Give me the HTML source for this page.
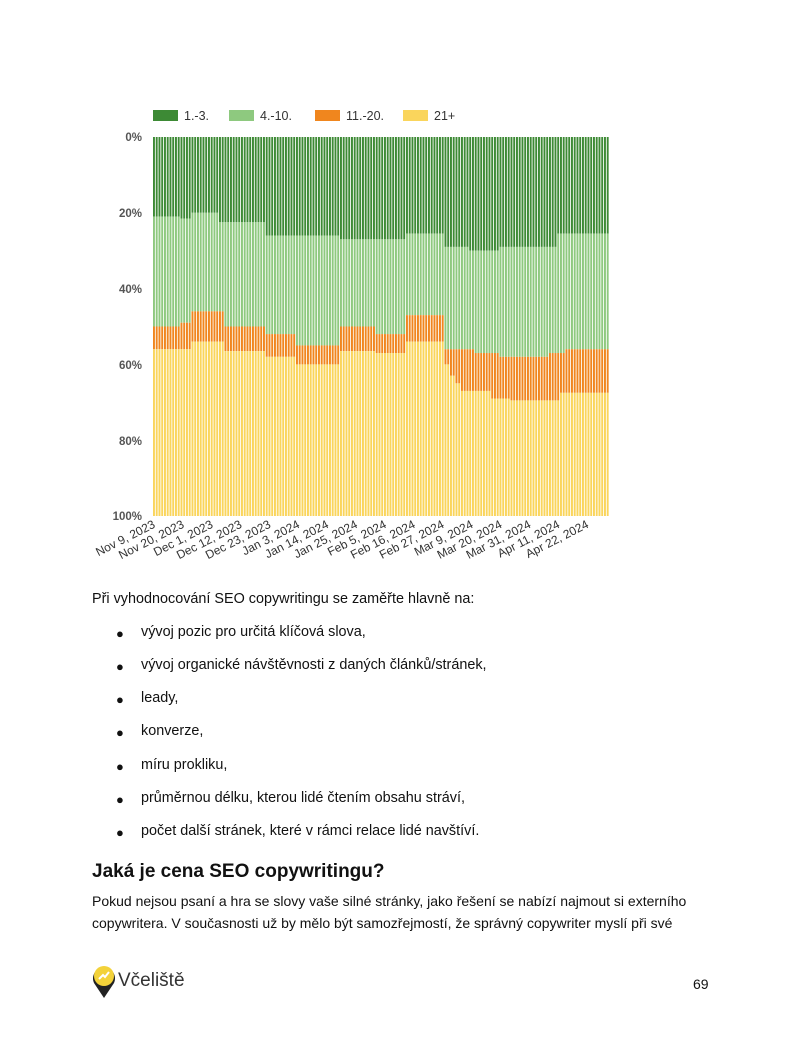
<!DOCTYPE html>
<html><head><meta charset="utf-8"><style>
body{margin:0;background:#fff;width:800px;height:1037px;position:relative;font-family:"Liberation Sans",sans-serif;color:#111;overflow:hidden}
.t{position:absolute;font-size:14.4px;white-space:nowrap}
.b{position:absolute;left:116px;font-size:13px}
</style></head><body>
<svg id="c" width="800" height="580" style="position:absolute;left:0;top:0" font-family="Liberation Sans, sans-serif">
<rect x="153" y="110" width="25" height="11" fill="#3d8a35"/><text x="184" y="120" font-size="12.5" fill="#333">1.-3.</text>
<rect x="229" y="110" width="25" height="11" fill="#8ec97f"/><text x="260" y="120" font-size="12.5" fill="#333">4.-10.</text>
<rect x="315" y="110" width="25" height="11" fill="#f0861e"/><text x="346" y="120" font-size="12.5" fill="#333">11.-20.</text>
<rect x="403" y="110" width="25" height="11" fill="#fad55c"/><text x="434" y="120" font-size="12.5" fill="#333">21+</text>
<g font-size="11.5" font-weight="bold" fill="#555" text-anchor="end">
<text x="142" y="141">0%</text><text x="142" y="217">20%</text><text x="142" y="293">40%</text><text x="142" y="369">60%</text><text x="142" y="445">80%</text><text x="142" y="520">100%</text>
</g>
<g id="bars"></g>
<g id="lab" font-size="12" fill="#333" text-anchor="end"></g>
</svg>
<div class="t" style="left:92px;top:591px">Při vyhodnocování SEO copywritingu se zaměřte hlavně na:</div>
<div class="b" style="top:626px">●</div><div class="t" style="left:141px;top:624px">vývoj pozic pro určitá klíčová slova,</div>
<div class="b" style="top:659px">●</div><div class="t" style="left:141px;top:657px">vývoj organické návštěvnosti z daných článků/stránek,</div>
<div class="b" style="top:692px">●</div><div class="t" style="left:141px;top:690px">leady,</div>
<div class="b" style="top:725px">●</div><div class="t" style="left:141px;top:723px">konverze,</div>
<div class="b" style="top:759px">●</div><div class="t" style="left:141px;top:757px">míru prokliku,</div>
<div class="b" style="top:792px">●</div><div class="t" style="left:141px;top:790px">průměrnou délku, kterou lidé čtením obsahu stráví,</div>
<div class="b" style="top:825px">●</div><div class="t" style="left:141px;top:823px">počet další stránek, které v rámci relace lidé navštíví.</div>
<div class="t" style="left:92px;top:861px;font-size:19px;font-weight:bold">Jaká je cena SEO copywritingu?</div>
<div class="t" style="left:92px;top:893px;font-size:14px">Pokud nejsou psaní a hra se slovy vaše silné stránky, jako řešení se nabízí najmout si externího</div>
<div class="t" style="left:92px;top:915px;font-size:14px">copywritera. V současnosti už by mělo být samozřejmostí, že správný copywriter myslí při své</div>
<svg style="position:absolute;left:92px;top:963px" width="24" height="36"><path d="M12 35 L2 20 A11 11 0 1 1 22 20 Z" fill="#222"/><circle cx="12" cy="13" r="10" fill="#f3d23a"/><path d="M7 16 L11 12 L13 14 L17 9" stroke="#fff" stroke-width="2" fill="none"/></svg>
<div class="t" style="left:118px;top:970px;font-size:19px;color:#333">Včeliště</div>
<div class="t" style="left:693px;top:976px;font-size:14px">69</div>
<script>
const y0=137,h=379;
function f(x,segs){for(const s of segs){if(x<s[0])return s[1]}return segs[segs.length-1][1]}
const s1=[[180,21],[190,21.5],[220,20],[265,22.5],[340,26],[405,27],[445,25.5],[470,29],[500,30],[558,29],[700,25.5]];
const s2=[[180,50],[190,49],[225,46],[265,50],[295,52],[340,55],[375,50],[405,52],[445,47],[475,56],[500,57],[550,58],[565,57],[700,56]];
const s3=[[190,56],[225,54],[265,56.5],[295,58],[340,60],[375,56.5],[405,57],[445,54],[450,60],[455,63],[460,65],[490,67],[510,69],[560,69.5],[700,67.5]];
let g='';const w=2.75;
for(let x=153;x<609;x+=w){const c=x+1,a=f(c,s1),b=f(c,s2),d=f(c,s3);
const Y=p=>y0+h*p/100;
g+=`<rect x="${x}" y="${y0}" width="${w-0.8}" height="${Y(a)-y0}" fill="#3d8a35"/>`+
`<rect x="${x}" y="${Y(a)}" width="${w-0.8}" height="${Y(b)-Y(a)}" fill="#8ec97f"/>`+
`<rect x="${x}" y="${Y(b)}" width="${w-0.8}" height="${Y(d)-Y(b)}" fill="#f0861e"/>`+
`<rect x="${x}" y="${Y(d)}" width="${w-0.8}" height="${516-Y(d)}" fill="#fad55c"/>`+
`<rect x="${x+w-0.8}" y="${y0}" width="0.8" height="${h}" fill="#fff" opacity="0.45"/>`;}
document.getElementById('bars').innerHTML=g;
const L=["Nov 9, 2023","Nov 20, 2023","Dec 1, 2023","Dec 12, 2023","Dec 23, 2023","Jan 3, 2024","Jan 14, 2024","Jan 25, 2024","Feb 5, 2024","Feb 16, 2024","Feb 27, 2024","Mar 9, 2024","Mar 20, 2024","Mar 31, 2024","Apr 11, 2024","Apr 22, 2024"];
let t='';L.forEach((s,i)=>{const x=156+i*28.9;t+=`<text transform="translate(${x},527) rotate(-27)">${s}</text>`});
document.getElementById('lab').innerHTML=t;
</script>
</body></html>
